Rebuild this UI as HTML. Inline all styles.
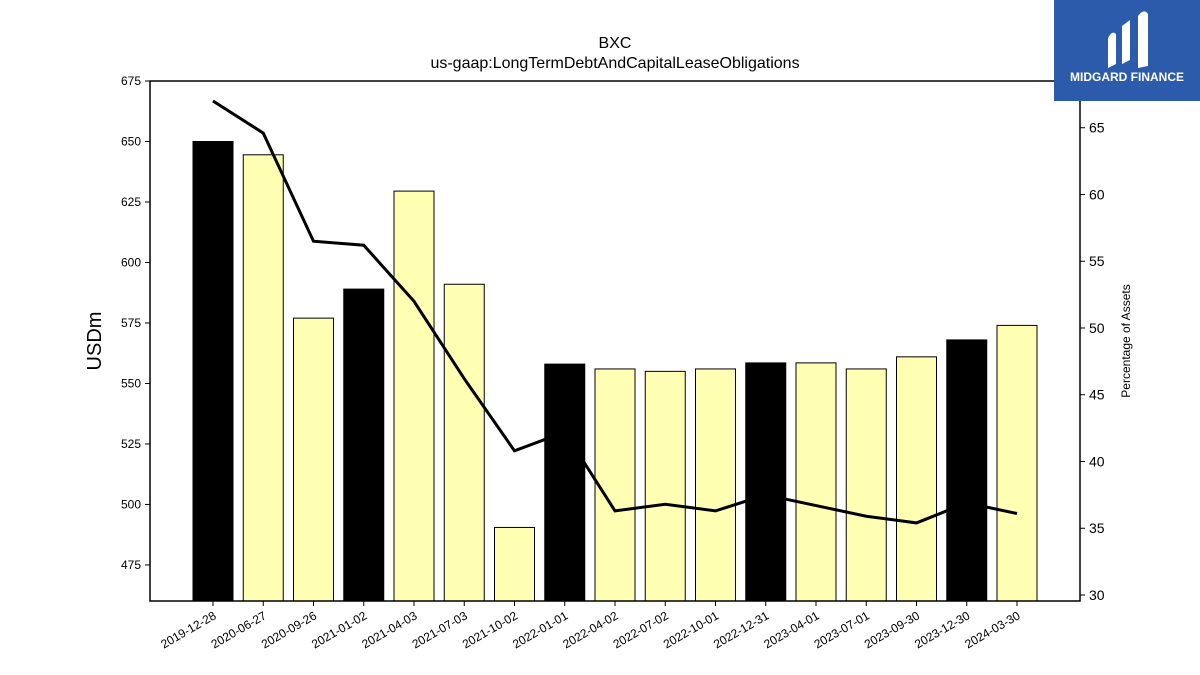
<!DOCTYPE html>
<html><head><meta charset="utf-8"><style>
html,body{margin:0;padding:0;background:#fff;}
svg{display:block;font-family:"Liberation Sans","DejaVu Sans",sans-serif;}
</style></head><body>
<svg id="chart" width="1200" height="675" viewBox="0 0 1200 675">
<text x="615" y="48" font-size="16" text-anchor="middle">BXC</text>
<text x="615" y="68" font-size="16" text-anchor="middle">us-gaap:LongTermDebtAndCapitalLeaseObligations</text>
<g id="bars"></g>
<g id="line"></g>
<rect x="150" y="81" width="930" height="520" fill="none" stroke="#000" stroke-width="1.5"/>
<g id="laxis"></g>
<g id="raxis"></g>
<g id="xaxis"></g>
<text transform="translate(101,341) rotate(-90)" font-size="20" text-anchor="middle">USDm</text>
<text transform="translate(1130,341) rotate(-90)" font-size="12" text-anchor="middle">Percentage of Assets</text>
<g>
<rect x="1054" y="0" width="146" height="101" fill="#2d5bab"/>
<path d="M1108 68 L1108 38 Q1112 30 1116 34 L1116 64 Z M1122 64 L1122 26 L1130 20 L1130 60 Z M1138 68 L1138 16 Q1144 8 1148 14 L1148 66 Z" fill="#fff"/>
<text x="1127" y="81" font-size="12" font-weight="bold" fill="#fff" text-anchor="middle">MIDGARD FINANCE</text>
</g>
</svg>
<script>
const categories=["2019-12-28","2020-06-27","2020-09-26","2021-01-02","2021-04-03","2021-07-03","2021-10-02","2022-01-01","2022-04-02","2022-07-02","2022-10-01","2022-12-31","2023-04-01","2023-07-01","2023-09-30","2023-12-30","2024-03-30"];
const debtValues=[650,644.5,577,589,629.5,591,490.5,558,556,555,556,558.5,558.5,556,561,568,574];
const pctValues=[67.0,64.6,56.5,56.2,52.0,46.2,40.8,42.2,36.3,36.8,36.3,37.5,36.7,35.9,35.4,36.9,36.1];
const yearEnd=[true,false,false,true,false,false,false,true,false,false,false,true,false,false,false,true,false];
const leftTicks=[475,500,525,550,575,600,625,650,675];
const rightTicks=[30,35,40,45,50,55,60,65];
const NS="http://www.w3.org/2000/svg";
const L=150,R=1080,T=81,B=601;
const yMin=460.1,yMax=675,pMin=29.55,pMax=68.5;
const step=(R-L)/(categories.length+1.5);
function x(i){return 213+i*50.25;}
function yL(v){return B-(v-yMin)/(yMax-yMin)*(B-T);}
function yR(v){return B-(v-pMin)/(pMax-pMin)*(B-T);}
function mk(t,a,p){const e=document.createElementNS(NS,t);for(const k in a)e.setAttribute(k,a[k]);p.appendChild(e);return e;}
const bars=document.getElementById('bars');
debtValues.forEach((v,i)=>{
 const r=mk('rect',{x:x(i)-20,y:yL(v),width:40,height:B-yL(v),fill:yearEnd[i]?'#000':'#ffffb3',stroke:'#000','stroke-width':1},bars);
 
 
});
const lg=document.getElementById('line');
const pl=mk('polyline',{points:pctValues.map((v,i)=>x(i)+','+yR(v)).join(' '),fill:'none',stroke:'#000','stroke-width':3},lg);


const la=document.getElementById('laxis');
leftTicks.forEach(t=>{const y=yL(t);
 mk('line',{x1:L-5,x2:L,y1:y,y2:y,stroke:'#000'},la);
 const tx=mk('text',{x:L-9,y:y+4,'font-size':12,'text-anchor':'end'},la);tx.textContent=t;
 
 });
const ra=document.getElementById('raxis');
rightTicks.forEach(t=>{const y=yR(t);
 mk('line',{x1:R,x2:R+5,y1:y,y2:y,stroke:'#000'},ra);
 const tx=mk('text',{x:R+9,y:y+5,'font-size':14},ra);tx.textContent=t;
 
 });
const xa=document.getElementById('xaxis');
categories.forEach((c,i)=>{const xx=x(i);
 mk('line',{x1:xx,x2:xx,y1:B,y2:B+5,stroke:'#000'},xa);
 const tx=mk('text',{transform:`translate(${xx+4},${B+17}) rotate(-30)`,'font-size':12,'text-anchor':'end'},xa);tx.textContent=c;
 
 });
</script>
</body></html>
